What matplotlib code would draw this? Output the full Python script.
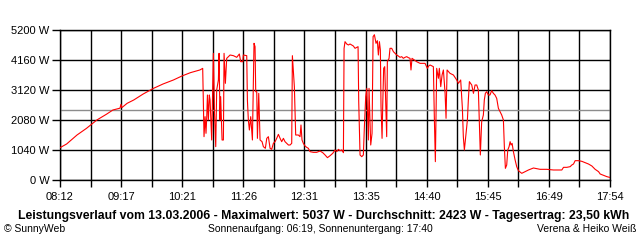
import matplotlib
matplotlib.use("Agg")
import matplotlib.pyplot as plt
from matplotlib import rcParams
from matplotlib.ticker import FixedLocator, NullFormatter
rcParams.update({"font.family": ["Liberation Sans", "DejaVu Sans"], "font.size": 8})

# minutes after midnight / power in W
minutes = [
    492, 499, 510, 520, 531, 541, 548, 555.5, 556.5, 557.5, 563, 570, 580, 591,
    601, 612, 621, 630, 640, 643,
    643.7, 644.4, 645.5, 646.5, 647.3, 648, 649, 650, 650.8, 652.5, 654.3, 655.4,
    656.8, 657.8, 659.6, 660.3, 661.3, 662, 663.5, 664.9, 665.6, 667, 668.4,
    672, 675.5, 679, 681.8, 683.2, 685.4, 686, 689.6,
    690.3, 691.3, 692.4, 693.8, 695.6, 697.3, 698.4, 699.1, 700.2, 700.9, 702.3,
    703, 703.7, 705.8, 707.2, 709.3, 710.8, 712.5, 714.3, 716, 717.8, 719.6,
    721.3, 723.1, 724.9, 726.6, 728.4, 730.1, 731.9, 733.7, 735.4, 737.2,
    737.9, 739, 740, 741.4, 744.2, 746, 747, 748.1, 749.5, 751.3, 753, 754.8,
    756.6, 760.1, 763.6, 767.2, 770, 772.5, 775, 777.8, 780.6, 783, 784.8,
    786.6, 788.3, 790.1, 791.9,
    792.6, 793.6, 795.4, 797.2, 798.9, 800.7, 802.4, 804.2, 806, 807.4,
    808.1, 809.5, 811.3, 813, 814.1, 815.5, 816.6, 818.3, 819, 820.8, 822.2,
    823.3, 824.7, 825.4, 826.4, 827.8, 828.9, 830, 831, 831.7, 832.8, 833.5,
    834.5, 835.6, 836.6, 837.7, 838.4, 840.2, 841.2, 843, 844.8, 846.5, 848.3,
    850, 851.8, 853.6, 855.3, 857.1, 858.9, 860.6, 862.4, 863.4, 864.5,
    869.4, 873, 878.3, 880.7, 882.1, 883.6, 887.1, 888.1, 889.2, 889.9, 890.6,
    892.4, 893.4, 894.9, 896.3, 897.7, 899.5, 900.5, 901.6, 904.7, 908.3,
    911.8, 913.6, 916, 917.8, 918.8, 919.9, 921.3, 923.1, 924.1, 925.2, 927.7,
    929.5, 931.2, 933, 934.7, 935.8, 936.8, 938.2, 940, 941, 942.1, 943.5,
    945.3, 947, 948.8, 950.6, 952.3, 954.1, 955.9, 957.7, 959.4, 961.2,
    962.2, 963.3, 964.7, 965.8, 967.2, 968.3, 969.3, 970.4, 971.8, 973.6,
    975.3, 977.1, 980.6, 984.2, 987.7, 991.2, 993, 1000, 1007.1, 1014.2, 1023,
    1024.8, 1028.3, 1031.8, 1033.6, 1035.4, 1037.1, 1040.6, 1044.2, 1047.7,
    1051.2, 1054.8, 1058.3, 1061.9, 1063.6, 1067.2, 1070.7, 1073.5,
]
watts = [
    1120, 1248, 1560, 1790, 2080, 2277, 2427, 2490, 2620, 2510, 2658, 2773, 2981, 3178,
    3328, 3467, 3605, 3721, 3814, 3870,
    2716, 1502, 2196, 1618, 2196, 2947, 2080, 2947, 2773, 1387, 4391, 2427,
    1156, 3120, 3467, 4391, 2080, 2889, 1387, 1387, 4391, 3351, 4218,
    4333, 4310, 4253, 4368, 4102, 4102, 4333, 4310,
    2773, 2080, 1733, 2196, 1387, 4738, 4622, 3062, 3062, 1444, 3004,
    2196, 1387, 1329, 1156, 1098, 1444, 1502, 1098, 1063, 1271, 1329,
    1444, 1583, 1444, 1329, 1444, 1329, 1271, 1213, 1213, 1271,
    4310, 3756, 3236, 1560, 1560, 1502, 1907, 1387, 1271, 1179, 1133, 1098,
    982, 959, 959, 1005, 948, 867, 774, 843, 924, 1040, 982,
    1063, 1017, 1040, 948,
    4565, 4796, 4715, 4680, 4715, 4680, 4646, 4565, 4599, 4622,
    2716, 867, 809, 867, 1849, 2889, 3178, 1387, 3178, 1213, 1618,
    4969, 5037, 4911, 4738, 4830, 4333, 4796, 4507, 2542, 1444, 2600,
    3871, 3929, 2716, 1502, 4102, 4218, 4565, 4565, 4449, 4391, 4333,
    4299, 4253, 4276, 4218, 4253, 4276, 4241, 4218, 3814, 4218,
    4102, 4044, 4044, 3871, 3952, 3987, 3929, 2196, 636, 2196, 3871,
    3525, 3871, 3236, 3640, 3814, 3004, 2138, 3814, 3698, 3640,
    3467, 3351, 3467, 2485, 1502, 1040, 1502, 2080, 2773, 3409, 3293,
    3004, 3293, 3293, 3120, 1965, 867, 2022, 2253, 2773, 3004, 3062,
    2947, 2947, 3097, 3004, 2947, 2831, 2485, 2369, 2253, 2080,
    1156, 404, 520, 1040, 1156, 1329, 1213, 1271, 982, 693,
    462, 323, 231, 289, 347, 393, 416, 370, 370, 347, 347,
    439, 439, 462, 520, 555, 670, 670, 647, 601,
    555, 486, 370, 289, 208, 162, 116, 92,
]
average_w = 2423

tick_labels = ["08:12", "09:17", "10:21", "11:26", "12:31", "13:35",
               "14:40", "15:45", "16:49", "17:54"]
y_ticks = [0, 1040, 2080, 3120, 4160, 5200]

title = ("Leistungsverlauf vom 13.03.2006 - Maximalwert: 5037 W - "
         "Durchschnitt: 2423 W - Tagesertrag: 23,50 kWh")

t0, t1 = 492, 1074
step = (t1 - t0) / (len(tick_labels) - 1)
major = [t0 + i * step for i in range(len(tick_labels))]
minor = [t0 + (i + 0.5) * step for i in range(len(tick_labels) - 1)]

fig = plt.figure(figsize=(6.4, 2.4), dpi=100)
ax = fig.add_axes([60 / 640, 60 / 240, 550 / 640, 150 / 240])
ax.set_xlim(t0, t1)
ax.set_ylim(0, 5200)

for x in major + minor:
    ax.axvline(x, color="black", lw=1.0, zorder=1)
for y in y_ticks:
    ax.axhline(y, color="black", lw=1.0, zorder=1)
ax.axhline(average_w, color="#8c8c8c", lw=1.0, zorder=2)
ax.plot(minutes, watts, color="#ff0000", lw=0.8, zorder=3)

ax.xaxis.set_major_locator(FixedLocator(major))
ax.xaxis.set_minor_locator(FixedLocator(minor))
ax.set_xticklabels(tick_labels)
ax.xaxis.set_minor_formatter(NullFormatter())
ax.set_yticks(y_ticks)
ax.set_yticklabels([f"{v} W" for v in y_ticks])
ax.tick_params(axis="x", which="both", direction="out", length=5, width=1,
               pad=4, labelsize=8)
ax.tick_params(axis="y", direction="out", length=6, width=1, pad=1.5,
               labelsize=8)
for s in ax.spines.values():
    s.set_linewidth(1.0)

fig.text(324 / 640, 1 - 216 / 240, title, ha="center", va="center",
         fontsize=8.8, fontweight="bold")
fig.text(4 / 640, 1 - 229 / 240, "© SunnyWeb", ha="left", va="center", fontsize=7.5)
fig.text(320 / 640, 1 - 229 / 240, "Sonnenaufgang: 06:19, Sonnenuntergang: 17:40",
         ha="center", va="center", fontsize=7.5)
fig.text(636 / 640, 1 - 229 / 240, "Verena & Heiko Weiß", ha="right", va="center",
         fontsize=7.5)

fig.savefig("out.png", dpi=100)
